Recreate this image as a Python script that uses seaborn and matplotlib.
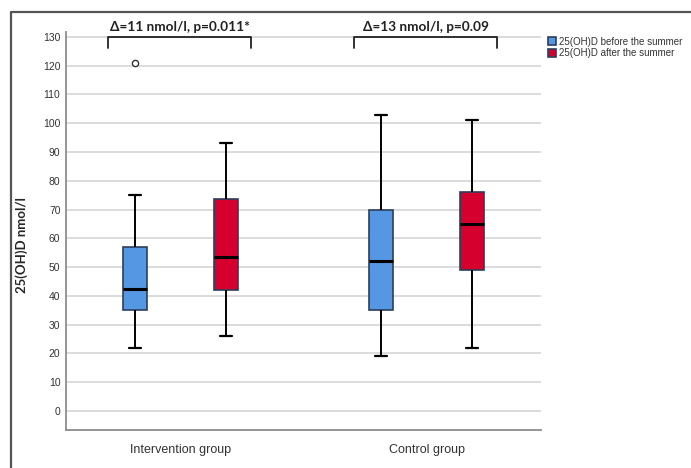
import numpy as np
import pandas as pd
import matplotlib
matplotlib.use("Agg")
import matplotlib.pyplot as plt
import seaborn as sns

# five-number summaries (whisker low, Q1, median, Q3, whisker high)
groups = ["Intervention group", "Control group"]
seasons = ["25(OH)D before the summer", "25(OH)D after the summer"]
interv_before = [22, 35, 42.5, 57, 75]
interv_after = [26, 42, 53.5, 73.5, 93]
control_before = [19, 35, 52, 70, 103]
control_after = [22, 49, 65, 76, 101]
outliers = {("Intervention group", "25(OH)D before the summer"): [121]}
brackets = ["\u0394=11 nmol/l, p=0.011*", "\u0394=13 nmol/l, p=0.09"]
yticks = list(range(0, 131, 10))

colors = ["#5597e2", "#d5002d"]

rows = []
for g, s, vals in [(groups[0], seasons[0], interv_before), (groups[0], seasons[1], interv_after),
                   (groups[1], seasons[0], control_before), (groups[1], seasons[1], control_after)]:
    for v in vals:
        rows.append({"group": g, "season": s, "value": v})
df = pd.DataFrame(rows)

sns.set_style("white")
plt.rcParams["font.family"] = ["Liberation Sans", "DejaVu Sans"]

fig = plt.figure(figsize=(6.91, 4.68), dpi=100)
ax = fig.add_axes([66 / 691, 1 - 430 / 468, 475 / 691, 398 / 468])

width = 0.74
gap = 0.735
sns.boxplot(data=df, x="group", y="value", hue="season", order=groups, hue_order=seasons,
            palette=colors, saturation=1, width=width, gap=gap, whis=np.inf, ax=ax,
            linecolor="black", linewidth=1.2,
            boxprops=dict(edgecolor="#2b3f5c"),
            medianprops=dict(color="black", linewidth=2.2),
            whiskerprops=dict(color="black", linewidth=1.4),
            capprops=dict(color="black", linewidth=1.6))

# outlier circles at the dodged positions
off = width / 4
for (g, s), vals in outliers.items():
    xpos = groups.index(g) + (-off if s == seasons[0] else off)
    ax.plot([xpos] * len(vals), vals, "o", mfc="white", mec="#333333", ms=4.5, mew=1.0)

ax.set_ylim(-6.6, 131.7)
ax.set_xlim(-0.465, 1.465)
ax.set_yticks(yticks)
ax.yaxis.grid(True, color="#d9d9d9", linewidth=1.3)
ax.set_axisbelow(True)
for sp in ["top", "right"]:
    ax.spines[sp].set_visible(False)
for sp in ["left", "bottom"]:
    ax.spines[sp].set_color("#8c8c8c")
    ax.spines[sp].set_linewidth(1.3)
ax.tick_params(axis="y", length=0, labelsize=7.5, labelcolor="#333333", pad=4)
ax.tick_params(axis="x", length=0, labelsize=9, labelcolor="#333333", pad=10)
ax.set_xlabel("")
ax.set_ylabel("25(OH)D nmol/l", fontsize=9.5, fontweight="bold", family=["Lato", "DejaVu Sans"])
ax.yaxis.set_label_coords(-0.08, 0.465)

# significance brackets
for i, txt in enumerate(brackets):
    x0, x1 = i - 0.295, i + 0.287
    ax.plot([x0, x0, x1, x1], [126.2, 130.1, 130.1, 126.2], color="#222222", lw=1.3,
            clip_on=False)
    ax.text(i - 0.004, 131.3, txt, ha="center", va="bottom", fontsize=9.8, fontweight="bold",
            family=["Lato", "DejaVu Sans"], color="#222222", clip_on=False)

leg = ax.legend(loc="upper left", bbox_to_anchor=(1.0, 1.005), frameon=False, fontsize=7,
                handlelength=0.8, handleheight=0.9, handletextpad=0.4, labelspacing=0.15,
                borderaxespad=0.3)
for t in leg.get_texts():
    t.set_color("#333333")
for h in leg.legend_handles:
    h.set_edgecolor("#2b3f5c")

# outer frame around the figure panel
fig.add_artist(plt.Line2D([11 / 691, 11 / 691, 1.0], [0.0, 1 - 12 / 468, 1 - 12 / 468],
                          transform=fig.transFigure, color="#555555", lw=1.6))

fig.savefig("out.png", dpi=100)
